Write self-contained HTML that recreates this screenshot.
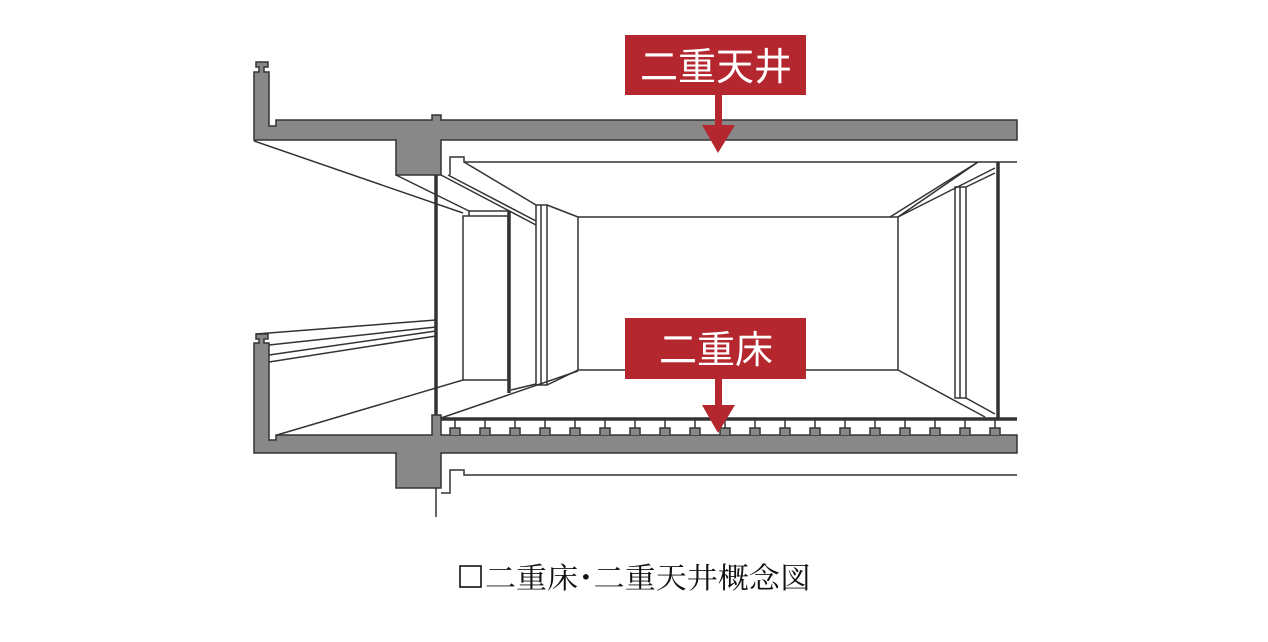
<!DOCTYPE html>
<html><head><meta charset="utf-8"><style>
html,body{margin:0;padding:0;background:#fff;width:1268px;height:642px;overflow:hidden}
svg{display:block}
</style></head><body>
<svg width="1268" height="642" viewBox="0 0 1268 642" xmlns="http://www.w3.org/2000/svg">
<g stroke="#333" stroke-width="1.5" fill="none" stroke-linejoin="miter">
<!-- upper slab -->
<path d="M256,62 h12 v5 h-4 v5 h5 v54 h7 v-6 h156 v-5 h9 v5 h576 v20 h-576 v35 h-45 v-35 h-142 V72 h5 v-5 h-3 z" fill="#888"/>
<!-- lower slab -->
<path d="M256,334 h12 v5 h-4 v4 h5 v97 h7 v-5 h156 v-20 h9 v20 h576 v18 h-576 v35 h-45 v-35 h-142 V343 h5 v-4 h-3 z" fill="#888"/>
<!-- ceiling panel upper -->
<path d="M450,175 V157 h14 v5 h553"/>
<!-- ceiling panel lower -->
<path d="M441,493 h9 V470 h14 v5 h553"/>
<line x1="436" y1="488" x2="436" y2="517"/>
<!-- diagonals -->
<line x1="254" y1="141" x2="463" y2="213"/>
<line x1="396" y1="175" x2="469" y2="211"/>
<line x1="441" y1="175" x2="536" y2="225"/>
<line x1="448" y1="175" x2="536" y2="221"/>
<line x1="464" y1="162" x2="536" y2="205"/>
<line x1="547" y1="205" x2="578" y2="217"/>
<line x1="277" y1="435" x2="463" y2="380"/>
<line x1="441" y1="418" x2="578" y2="371"/>
<line x1="511" y1="390" x2="536" y2="384"/>
<line x1="547" y1="385" x2="578" y2="370"/>
<!-- railing -->
<line x1="256" y1="334" x2="436" y2="320"/>
<line x1="269" y1="345" x2="436" y2="327"/>
<line x1="269" y1="355" x2="436" y2="331"/>
<line x1="269" y1="362" x2="436" y2="336"/>
<!-- left room -->
<rect x="463" y="216" width="45" height="164"/>
<path d="M469,216 V211 h39"/>
<!-- left column -->
<rect x="536" y="205" width="11" height="180"/>
<line x1="541" y1="205" x2="541" y2="385"/>
<!-- back wall -->
<rect x="578" y="217" width="320" height="153"/>
<!-- right side -->
<line x1="898" y1="217" x2="978" y2="162"/>
<line x1="890" y1="217" x2="978" y2="162"/>
<line x1="898" y1="217" x2="995" y2="168"/>
<line x1="966" y1="187" x2="995" y2="173"/>
<line x1="898" y1="370" x2="985" y2="417"/>
<line x1="966" y1="398" x2="995" y2="414"/>
<rect x="955" y="187" width="11" height="211"/>
<line x1="960" y1="187" x2="960" y2="398"/>
</g>
<!-- thick lines -->
<g stroke="#333" stroke-width="3.5">
<line x1="436" y1="175" x2="436" y2="415"/>
<line x1="509" y1="211" x2="509" y2="393"/>
<line x1="998" y1="162" x2="998" y2="419"/>
<line x1="441" y1="419" x2="1017" y2="419"/>
</g>
<!-- pedestals -->
<g stroke="#333" stroke-width="1.5" fill="#888">
<path d="M455,420 v8 M450,435 v-7 h10 v7"/>
<path d="M485,420 v8 M480,435 v-7 h10 v7"/>
<path d="M515,420 v8 M510,435 v-7 h10 v7"/>
<path d="M545,420 v8 M540,435 v-7 h10 v7"/>
<path d="M575,420 v8 M570,435 v-7 h10 v7"/>
<path d="M605,420 v8 M600,435 v-7 h10 v7"/>
<path d="M635,420 v8 M630,435 v-7 h10 v7"/>
<path d="M665,420 v8 M660,435 v-7 h10 v7"/>
<path d="M695,420 v8 M690,435 v-7 h10 v7"/>
<path d="M725,420 v8 M720,435 v-7 h10 v7"/>
<path d="M755,420 v8 M750,435 v-7 h10 v7"/>
<path d="M785,420 v8 M780,435 v-7 h10 v7"/>
<path d="M815,420 v8 M810,435 v-7 h10 v7"/>
<path d="M845,420 v8 M840,435 v-7 h10 v7"/>
<path d="M875,420 v8 M870,435 v-7 h10 v7"/>
<path d="M905,420 v8 M900,435 v-7 h10 v7"/>
<path d="M935,420 v8 M930,435 v-7 h10 v7"/>
<path d="M965,420 v8 M960,435 v-7 h10 v7"/>
<path d="M995,420 v8 M990,435 v-7 h10 v7"/>
</g>
<!-- labels -->
<g fill="#b5272f">
<rect x="625" y="35" width="181" height="60"/>
<rect x="715" y="95" width="7" height="32"/>
<polygon points="702,125 735,125 718,153"/>
<rect x="625" y="318" width="181" height="61"/>
<rect x="715" y="379" width="7" height="28"/>
<polygon points="702,405 735,405 718,433"/>
</g>
<g fill="#fff" font-family="'Liberation Sans','Noto Sans CJK JP',sans-serif" font-size="38" text-anchor="middle">
<text x="716" y="80">二重天井</text>
<text x="716" y="363">二重床</text>
</g>
<rect x="460" y="566" width="21" height="21" fill="none" stroke="#111" stroke-width="1.6"/>
<text x="485" y="588" font-family="'Liberation Serif','Noto Serif CJK SC',serif" font-size="29" fill="#111" textLength="326" lengthAdjust="spacingAndGlyphs">二重床･二重天井概念図</text>
</svg>
</body></html>
